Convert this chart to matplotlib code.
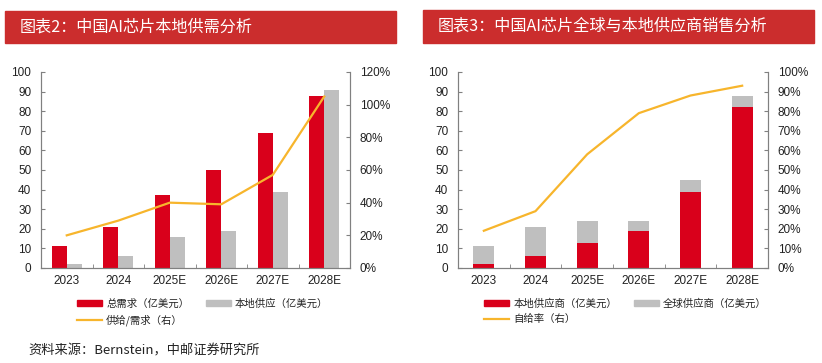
import matplotlib
matplotlib.use("Agg")
import matplotlib.pyplot as plt
from matplotlib.patches import Rectangle, Patch
from matplotlib.lines import Line2D
from matplotlib.ticker import FuncFormatter, MultipleLocator, FixedLocator
import numpy as np

plt.rcParams['font.family'] = ['Liberation Sans', 'Noto Sans CJK SC', 'DejaVu Sans']

# ---------------- data ----------------
years = ["2023", "2024", "2025E", "2026E", "2027E", "2028E"]

# chart 2
total_demand = [11, 21, 37, 50, 69, 88]          # 总需求（亿美元）
local_supply = [2, 6, 16, 19, 39, 91]            # 本地供应（亿美元）
supply_demand_ratio = [20, 29, 40, 39, 57, 105]  # 供给/需求（右）, %

# chart 3
local_vendors = [2, 6, 13, 19, 39, 82]           # 本地供应商（亿美元）
global_vendors = [9, 15, 11, 5, 6, 6]            # 全球供应商（亿美元）
self_sufficiency = [19, 29, 58, 79, 88, 93]      # 自给率（右）, %

title_left = "图表2：中国AI芯片本地供需分析"
title_right = "图表3：中国AI芯片全球与本地供应商销售分析"
legend_left = ["总需求（亿美元）", "本地供应（亿美元）", "供给/需求（右）"]
legend_right = ["本地供应商（亿美元）", "全球供应商（亿美元）", "自给率（右）"]
source = "资料来源：Bernstein，中邮证券研究所"

RED = "#D9001B"
GRAY = "#BFBFBF"
ORANGE = "#F7B52C"
BAR_TITLE = "#CB2D2D"
SPINE = "#808080"

W, H = 822, 363
fig = plt.figure(figsize=(W / 100, H / 100), dpi=100)

def fx(px):
    return px / W

def fy(py):
    return 1 - py / H

cjk = ['Noto Sans CJK SC', 'DejaVu Sans']

# title bars
for (x0, x1, y0, y1, t) in [(5, 396, 11, 43, title_left), (423, 814, 10, 43, title_right)]:
    fig.patches.append(Rectangle((fx(x0), fy(y1)), fx(x1 - x0), (y1 - y0) / H,
                                 transform=fig.transFigure, color=BAR_TITLE, zorder=0))
    fig.text(fx(x0 + 15), fy((y0 + y1) / 2), t, color="white", fontsize=11.6,
             va="center", ha="left", family=cjk, fontweight="medium")


def style_axes(ax, ax2):
    x = np.arange(len(years))
    ax.set_xlim(-0.5, len(years) - 0.5)
    ax.set_ylim(0, 100)
    ax.yaxis.set_major_locator(MultipleLocator(10))
    ax.set_xticks(x)
    ax.set_xticklabels(years)
    ax.xaxis.set_minor_locator(FixedLocator(np.arange(-0.5, len(years), 1.0)))
    ax.tick_params(axis="x", which="major", length=0, pad=5, labelsize=8.5, colors="#222222")
    ax.tick_params(axis="x", which="minor", length=3, direction="in", color=SPINE)
    ax.tick_params(axis="y", which="major", length=3, direction="in", pad=7,
                   labelsize=8.5, color=SPINE, labelcolor="#222222")
    ax2.tick_params(axis="y", which="major", length=3, direction="in", pad=7,
                    labelsize=8.5, color=SPINE, labelcolor="#222222")
    for a in (ax, ax2):
        a.spines["top"].set_visible(False)
        for s in ("left", "right", "bottom"):
            a.spines[s].set_color(SPINE)
            a.spines[s].set_linewidth(0.8)
        a.patch.set_visible(False)
    ax2.yaxis.set_major_formatter(FuncFormatter(lambda v, p: f"{v:.0f}%"))


# ---------------- left chart ----------------
axL = fig.add_axes([fx(41), fy(268), fx(309), (268 - 72) / H])
axL2 = axL.twinx()
x = np.arange(len(years))
bw = 0.29
b1 = axL.bar(x - bw / 2, total_demand, width=bw, color=RED, zorder=2)
b2 = axL.bar(x + bw / 2, local_supply, width=bw, color=GRAY, zorder=2)
axL2.plot(x, supply_demand_ratio, color=ORANGE, lw=1.6, zorder=3)
axL2.set_ylim(0, 120)
axL2.yaxis.set_major_locator(MultipleLocator(20))
style_axes(axL, axL2)

# ---------------- right chart ----------------
axR = fig.add_axes([fx(458), fy(268), fx(310), (268 - 72) / H])
axR2 = axR.twinx()
bw2 = 0.41
r1 = axR.bar(x, local_vendors, width=bw2, color=RED, zorder=2)
r2 = axR.bar(x, global_vendors, width=bw2, bottom=local_vendors, color=GRAY, zorder=2)
axR2.plot(x, self_sufficiency, color=ORANGE, lw=1.6, zorder=3)
axR2.set_ylim(0, 100)
axR2.yaxis.set_major_locator(MultipleLocator(10))
style_axes(axR, axR2)

# ---------------- legends ----------------
def make_legend(labels, anchor_px):
    handles = [Patch(color=RED), Line2D([], [], color=ORANGE, lw=1.6), Patch(color=GRAY)]
    labs = [labels[0], labels[2], labels[1]]
    leg = fig.legend(handles, labs, ncol=2, loc="upper left",
                     bbox_to_anchor=(fx(anchor_px[0]), fy(anchor_px[1])),
                     frameon=False, prop={"family": cjk, "size": 7.5},
                     handlelength=2.4, handleheight=0.55, handletextpad=0.4,
                     columnspacing=1.6, labelspacing=0.55, borderaxespad=0,
                     borderpad=0)
    for t in leg.get_texts():
        t.set_color("#222222")
    return leg

make_legend(legend_left, (77, 298))
make_legend(legend_right, (484, 298))

fig.text(fx(28), fy(351), source, fontsize=9.5, va="center", ha="left",
         color="#222222", family=cjk)

fig.savefig("out.png", dpi=100)
